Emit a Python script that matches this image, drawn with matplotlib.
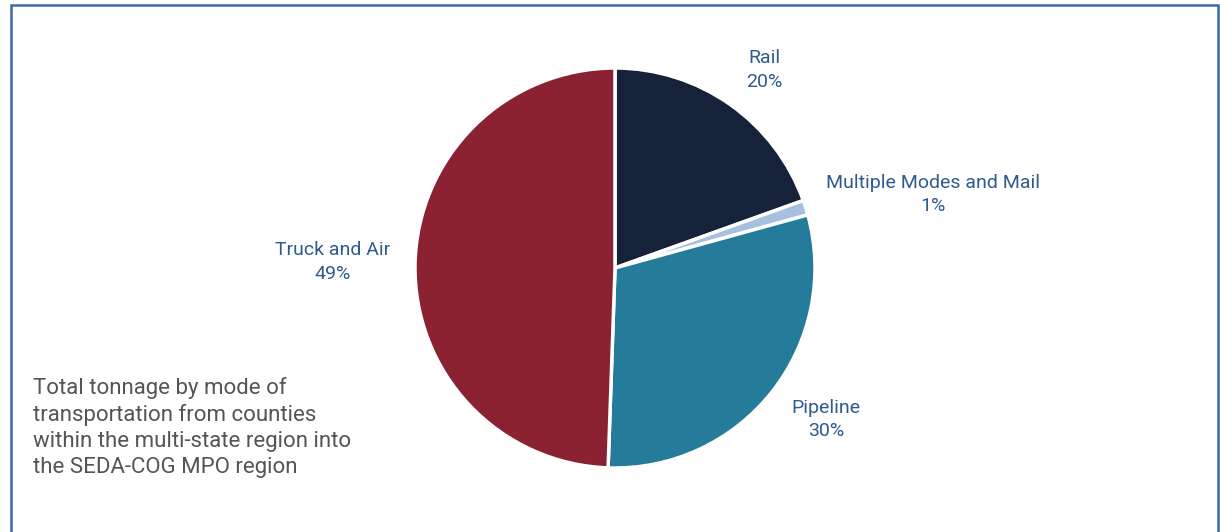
import numpy as np
import matplotlib
matplotlib.use("Agg")
import matplotlib.pyplot as plt
from matplotlib.patches import Rectangle

modes = ["Rail", "Multiple Modes and Mail", "Pipeline", "Truck and Air"]
shares = [19.5, 1.2, 29.8, 49.4]
colors = ["#16213a", "#a7c0e0", "#247c9a", "#8a2232"]
# label placement: angle (deg) and distance in pie radii
label_ang = [53, 13, -35.6, 178.8]
label_dist = [1.24, 1.63, 1.30, 1.41]

caption = ("Total tonnage by mode of\ntransportation from counties\n"
           "within the multi-state region into\nthe SEDA-COG MPO region")

plt.rcParams['font.family'] = ['Roboto', 'DejaVu Sans']

fig = plt.figure(figsize=(12.2, 5.32), dpi=100)
fig.patch.set_facecolor("white")

# frame around the chart
fig.patches.append(Rectangle((11 / 1220, -0.05), 1207 / 1220, 1.05 - 5 / 532,
                             transform=fig.transFigure, fill=False,
                             edgecolor="#3a68ab", linewidth=1.8))

ax = fig.add_axes([415 / 1220, 64 / 532, 400 / 1220, 400 / 532])
wedges, _ = ax.pie(shares, colors=colors, startangle=90, counterclock=False,
                   wedgeprops=dict(edgecolor="white", linewidth=2.5))
ax.set_xlim(-1, 1)
ax.set_ylim(-1, 1)
ax.set_aspect("equal")
ax.axis("off")

for name, s, a, d in zip(modes, shares, label_ang, label_dist):
    t = np.deg2rad(a)
    ax.text(d * np.cos(t), d * np.sin(t), "%s\n%.0f%%" % (name, s),
            ha="center", va="center", fontsize=14, color="#2f5b90",
            linespacing=1.4)

fig.text(33 / 1220, 1 - 377 / 532, caption, ha="left", va="top",
         fontsize=16, color="#555555", linespacing=1.3)

fig.savefig("out.png", dpi=100)
